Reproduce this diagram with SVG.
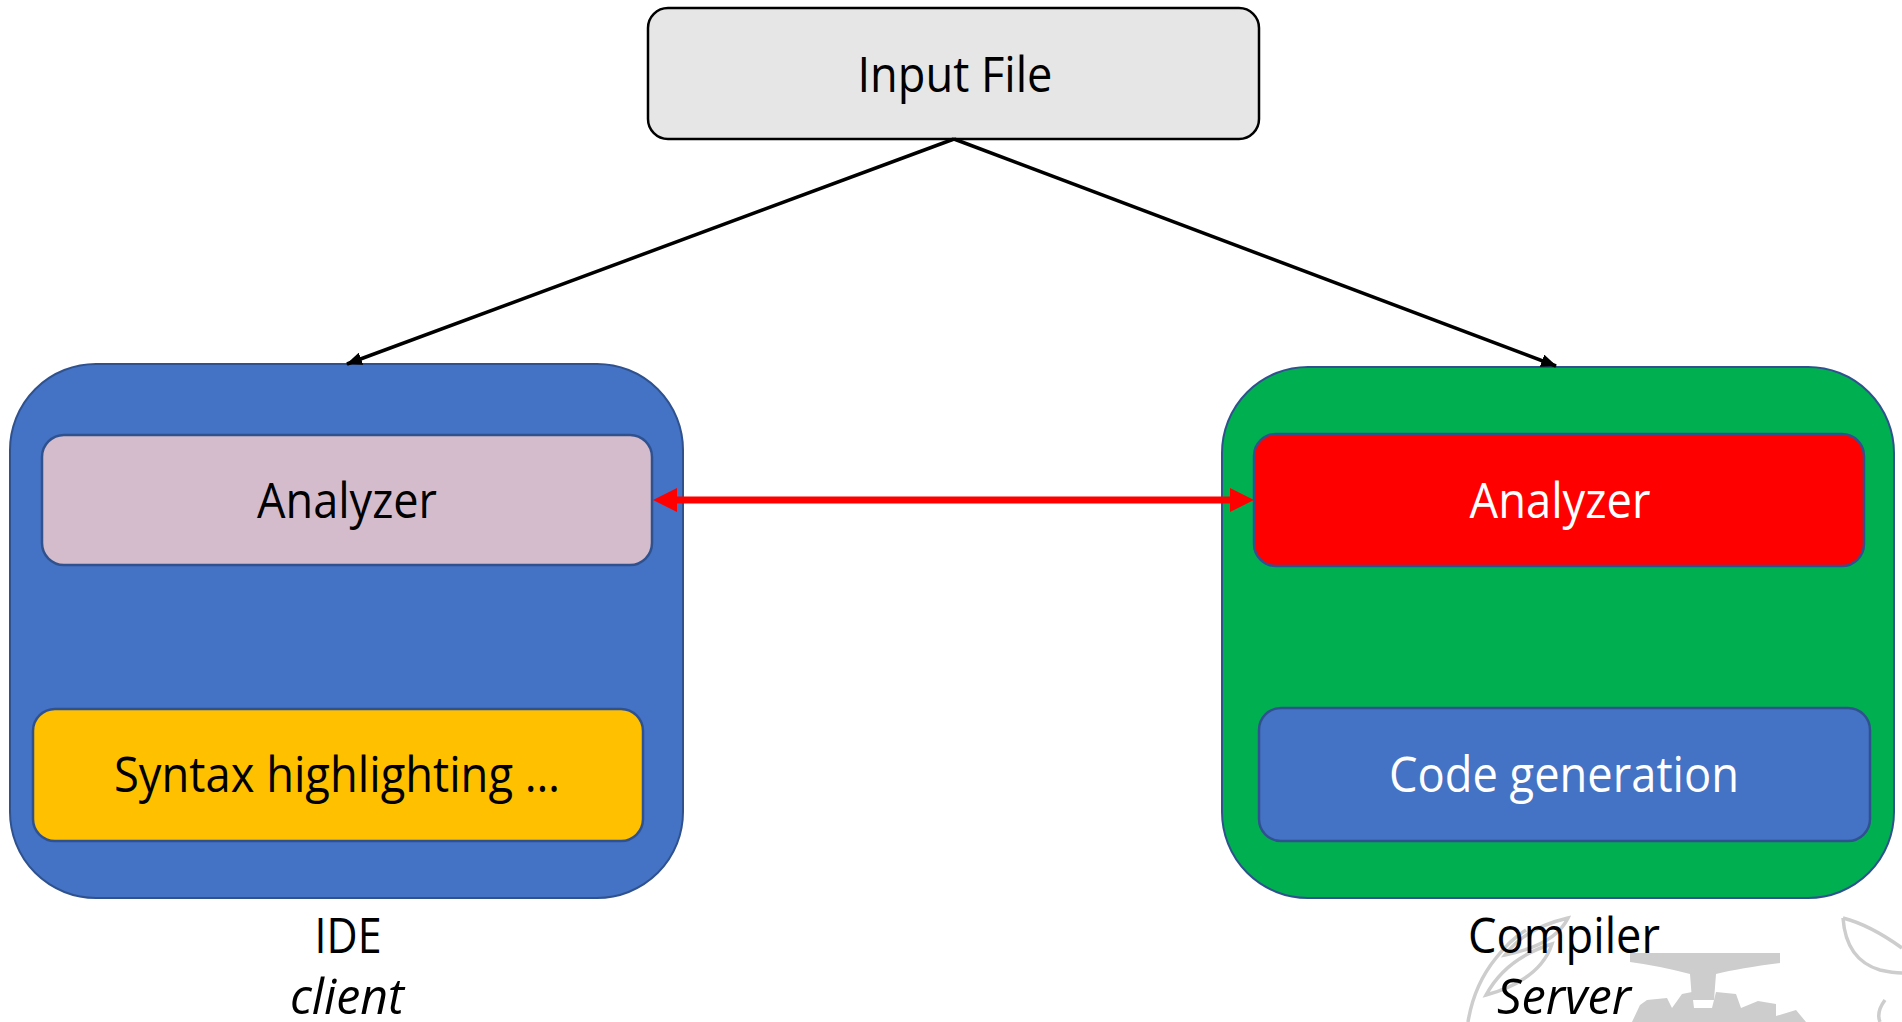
<svg xmlns="http://www.w3.org/2000/svg" width="1902" height="1022" viewBox="0 0 1902 1022">
<style>
.t{font-family:"Open Sans","Noto Sans","Liberation Sans",sans-serif;font-size:49px;text-anchor:middle;fill:#000}
.w{fill:#fff}
.i{font-style:italic}
.outer{stroke:#2F528F;stroke-width:2}
.inner{stroke:#2F528F;stroke-width:2.5}
.wm{fill:#cdcdcd}
.wml{fill:none;stroke:#cdcdcd;stroke-width:3.5}
</style>
<defs>
<marker id="ab" markerUnits="userSpaceOnUse" markerWidth="16" markerHeight="13" refX="15" refY="6.5" orient="auto">
<path d="M0,0 L16,6.5 L0,13 z" fill="#000"/>
</marker>
<marker id="ar" markerUnits="userSpaceOnUse" markerWidth="24" markerHeight="24" refX="0" refY="12" orient="auto-start-reverse">
<path d="M0,0 L24,12 L0,24 z" fill="#FF0000"/>
</marker>
</defs>
<rect width="1902" height="1022" fill="#fff"/>
<g id="watermark">
<path class="wm" d="M1630,953 L1780,953 L1780,963 Q1740,968 1716,974 L1714,1000 L1692,1000 L1690,974 Q1660,966 1630,962 Z"/>
<path class="wm" d="M1632,1022 L1640,1005 L1647,1000 L1667,998 L1672,1008 L1682,994 L1692,992 L1694,1008 L1712,1008 L1716,992 L1736,994 L1741,1008 L1758,1001 L1776,1004 L1776,1016 L1796,1010 L1806,1022 Z"/>
<path class="wml" d="M1468,1022 Q1474,985 1496,958 Q1510,940 1526,930"/>
<path class="wml" d="M1486,995 Q1506,958 1552,944 Q1540,980 1486,995 Z"/>
<path class="wml" d="M1505,955 Q1525,928 1568,918 Q1555,945 1505,955 Z"/>
<path class="wml" d="M1843,918 Q1846,960 1880,970 Q1893,973 1902,973"/>
<path class="wml" d="M1843,918 Q1870,925 1902,948"/>
<path class="wml" d="M1885,1000 Q1876,1012 1880,1022"/>
</g>
<g id="input-file">
<rect x="648" y="8" width="611" height="131" rx="20" fill="#E7E6E6" stroke="#000" stroke-width="2.5"/>
<text class="t" x="955" y="92" textLength="195" lengthAdjust="spacingAndGlyphs">Input File</text>
</g>
<g id="ide">
<rect class="outer" x="10" y="364" width="673" height="534" rx="86" fill="#4472C4"/>
<text class="t" x="348" y="953" textLength="67" lengthAdjust="spacingAndGlyphs">IDE</text>
<text class="t i" x="347" y="1014" textLength="114" lengthAdjust="spacingAndGlyphs">client</text>
</g>
<g id="ide-analyzer">
<rect class="inner" x="42" y="435" width="610" height="130" rx="22" fill="#D4BCCC"/>
<text class="t" x="347" y="518" textLength="180" lengthAdjust="spacingAndGlyphs">Analyzer</text>
</g>
<g id="syntax-highlighting">
<rect class="inner" x="33" y="709" width="610" height="132" rx="22" fill="#FFC000"/>
<text class="t" x="337" y="792" textLength="446" lengthAdjust="spacingAndGlyphs">Syntax highlighting …</text>
</g>
<g id="compiler">
<rect class="outer" x="1222" y="367" width="672" height="531" rx="86" fill="#00B050"/>
<text class="t" x="1564" y="953" textLength="192" lengthAdjust="spacingAndGlyphs">Compiler</text>
<text class="t i" x="1564" y="1014" textLength="134" lengthAdjust="spacingAndGlyphs">Server</text>
</g>
<g id="compiler-analyzer">
<rect class="inner" x="1254" y="434" width="610" height="132" rx="22" fill="#FF0000"/>
<text class="t w" x="1560" y="518" textLength="181" lengthAdjust="spacingAndGlyphs">Analyzer</text>
</g>
<g id="code-generation">
<rect class="inner" x="1259" y="708" width="611" height="133" rx="22" fill="#4472C4"/>
<text class="t w" x="1564" y="792" textLength="350" lengthAdjust="spacingAndGlyphs">Code generation</text>
</g>
<g id="connectors" fill="none">
<line x1="954" y1="139" x2="347" y2="364" stroke="#000" stroke-width="3.5" marker-end="url(#ab)"/>
<line x1="954" y1="139" x2="1556" y2="366" stroke="#000" stroke-width="3.5" marker-end="url(#ab)"/>
<line x1="677" y1="500" x2="1230" y2="500" stroke="#FF0000" stroke-width="7" marker-start="url(#ar)" marker-end="url(#ar)"/>
</g>
</svg>
